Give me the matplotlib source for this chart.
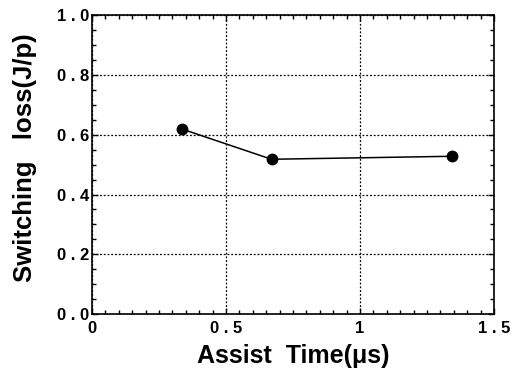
import matplotlib
matplotlib.use("Agg")
import matplotlib.pyplot as plt
from matplotlib.ticker import MultipleLocator, FixedLocator

assist_time = [0.336, 0.67, 1.343]
switching_loss = [0.619, 0.518, 0.528]
xticks = [0, 0.5, 1, 1.5]
xtick_labels = ["0", "0 . 5", "1", "1 . 5"]
yticks = [0.0, 0.2, 0.4, 0.6, 0.8, 1.0]
ytick_labels = ["0 . 0", "0 . 2", "0 . 4", "0 . 6", "0 . 8", "1 . 0"]

plt.rcParams['font.family'] = ['Liberation Sans', 'DejaVu Sans']
fig = plt.figure(figsize=(5.26, 3.70), dpi=100)
ax = fig.add_axes([0.175, 0.151, 0.764, 0.808])

ax.plot(assist_time, switching_loss, color='black', lw=1.1, marker='o',
        markersize=7.5, markerfacecolor='black', zorder=3)

ax.set_xlim(0, 1.5)
ax.set_ylim(0, 1.0)
ax.xaxis.set_major_locator(FixedLocator(xticks))
ax.yaxis.set_major_locator(FixedLocator(yticks))
ax.set_xticklabels(xtick_labels, fontsize=12, fontweight='bold')
ax.set_yticklabels(ytick_labels, fontsize=12, fontweight='bold')
ax.xaxis.set_minor_locator(MultipleLocator(0.05))
ax.yaxis.set_minor_locator(MultipleLocator(0.05))
ax.tick_params(which='both', direction='in', top=True, right=True, width=1)
ax.tick_params(which='major', length=4)
ax.tick_params(axis='x', which='major', pad=5)
ax.tick_params(axis='y', which='major', pad=2)
ax.tick_params(which='minor', length=3)
ax.grid(True, which='major', color='black', linestyle=(0, (1.5, 1.5)), lw=0.9)
for s in ax.spines.values():
    s.set_linewidth(1.2)

ax.set_xlabel("Assist  Time(\u03bcs)", fontsize=18, fontweight='bold', labelpad=6)
ax.set_ylabel("Switching   loss(J/p)", fontsize=18.5, fontweight='bold')
ax.yaxis.set_label_coords(-0.137, 0.522)

fig.savefig("out.png", dpi=100)
